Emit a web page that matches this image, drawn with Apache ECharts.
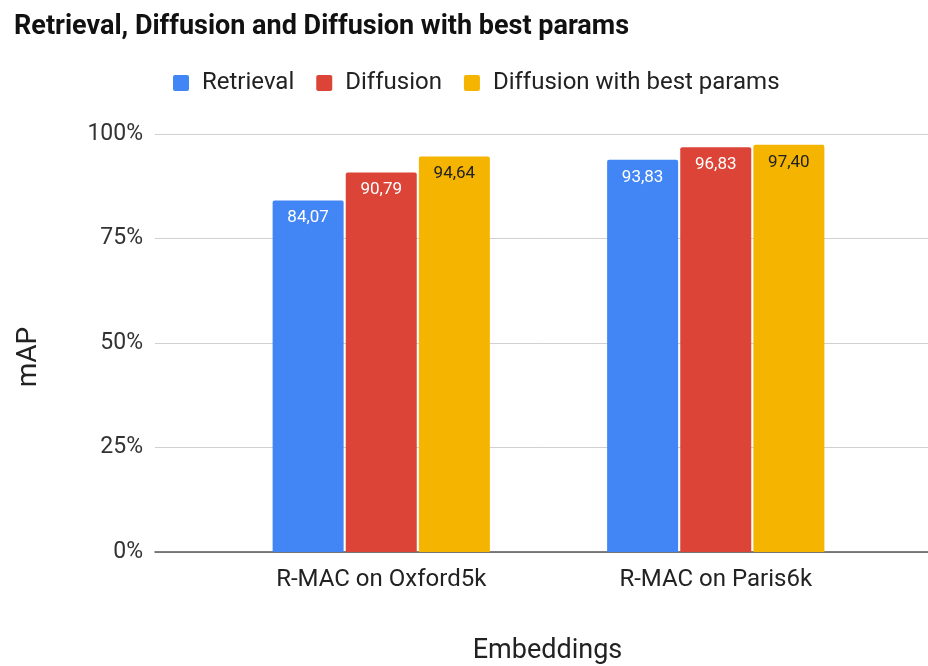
<!DOCTYPE html>
<html><head><meta charset="utf-8">
<script src="https://cdn.jsdelivr.net/npm/echarts@6/dist/echarts.min.js"></script>
<style>html,body{margin:0;padding:0;background:#fff}#c{width:928px;height:666px}</style>
</head><body><div id="c"></div>
<script>
const categories = ['R-MAC on Oxford5k', 'R-MAC on Paris6k'];
const retrieval = [84.07, 93.83];
const diffusion = [90.79, 96.83];
const diffusionBest = [94.64, 97.40];
const seriesNames = ['Retrieval', 'Diffusion', 'Diffusion with best params'];
const yTicks = [0, 25, 50, 75, 100];

const chart = echarts.init(document.getElementById('c'));
const fmt = p => p.value.toFixed(2).replace('.', ',');
function mk(name, data, color, labelColor) {
  return {
    name, type: 'bar', data, xAxisIndex: 1, yAxisIndex: 1,
    barWidth: 71, barGap: '3%',
    itemStyle: { color, borderRadius: [2, 2, 0, 0] },
    label: { show: true, position: 'insideTop', distance: 9, formatter: fmt,
      color: labelColor, fontFamily: 'Roboto', fontSize: 17 }
  };
}
chart.setOption({
  animation: false,
  textStyle: { fontFamily: 'Roboto' },
  title: { text: 'Retrieval, Diffusion and Diffusion with best params', left: 9, top: 9,
    textStyle: { fontFamily: 'Roboto', fontWeight: 'bold', fontSize: 27, color: '#111' } },
  legend: { top: 66, left: 168, itemWidth: 16, itemHeight: 16, itemGap: 22,
    icon: 'path://M2,0 H14 Q16,0 16,2 V14 Q16,16 14,16 H2 Q0,16 0,14 V2 Q0,0 2,0 Z',
    data: seriesNames,
    textStyle: { fontFamily: 'Roboto', fontSize: 24, color: '#222', padding: [0, 0, 0, 8] } },
  grid: [
    { left: 155, right: 0, top: 134, bottom: 114, outerBoundsMode: 'none', containLabel: false },
    { left: 214, right: 45, top: 134, bottom: 114, outerBoundsMode: 'none', containLabel: false }
  ],
  xAxis: [
    { type: 'category', gridIndex: 0, data: categories,
      axisLine: { show: true, lineStyle: { color: '#555', width: 1.5 } },
      axisTick: { show: false }, axisLabel: { show: false },
      name: 'Embeddings', nameLocation: 'middle', nameGap: 86,
      nameTextStyle: { fontFamily: 'Roboto', fontSize: 27, color: '#222', padding: [0, 0, 0, 12] } },
    { type: 'category', gridIndex: 1, data: categories,
      axisLine: { show: false }, axisTick: { show: false },
      axisLabel: { margin: 16, fontFamily: 'Roboto', fontSize: 24, color: '#222' } }
  ],
  yAxis: [
    { type: 'value', gridIndex: 0, min: 0, max: 100, interval: 25,
      axisLabel: { formatter: v => yTicks.includes(v) ? v + '%' : '', margin: 12,
        fontFamily: 'Roboto', fontSize: 23, color: '#333' },
      axisLine: { show: false }, axisTick: { show: false },
      splitLine: { lineStyle: { color: '#d0d0d0', width: 1 } },
      name: 'mAP', nameLocation: 'middle', nameGap: 112,
      nameTextStyle: { fontFamily: 'Roboto', fontSize: 28, color: '#222', padding: [0, 28, 0, 0] } },
    { type: 'value', gridIndex: 1, min: 0, max: 100, interval: 25, show: false,
      splitLine: { show: false } }
  ],
  series: [
    mk(seriesNames[0], retrieval, '#4285F4', '#fff'),
    mk(seriesNames[1], diffusion, '#DB4437', '#fff'),
    mk(seriesNames[2], diffusionBest, '#F4B400', '#222')
  ]
});
</script></body></html>
